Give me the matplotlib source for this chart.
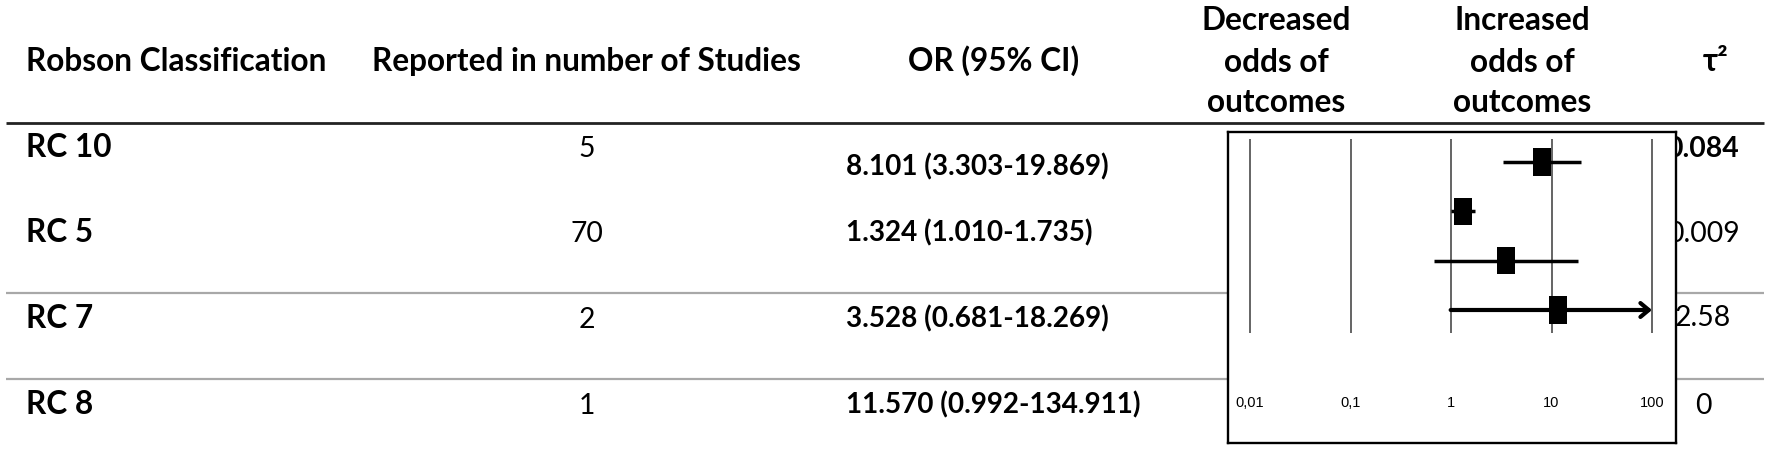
import matplotlib
matplotlib.use("Agg")
import matplotlib.pyplot as plt
from matplotlib.ticker import NullLocator

# ---------------- data ----------------
categories = ["RC 10", "RC 5", "RC 7", "RC 8"]
n_studies = [5, 70, 2, 1]
or_vals = [8.101, 1.324, 3.528, 11.570]
ci_low = [3.303, 1.010, 0.681, 0.992]
ci_high = [19.869, 1.735, 18.269, 134.911]
tau2_labels = ["0.084", "0.009", "2.58", "0"]
tau2_bold = [True, False, False, False]
tick_vals = [0.01, 0.1, 1, 10, 100]
tick_labels = ["0,01", "0,1", "1", "10", "100"]
col_headers = ["Robson Classification", "Reported in number of Studies", "OR (95% CI)"]
dec_header = ["Decreased", "odds of", "outcomes"]
inc_header = ["Increased", "odds of", "outcomes"]
tau_header = "τ²"

# ---------------- figure ----------------
W, H, DPI = 1772, 458, 100
fig = plt.figure(figsize=(W / DPI, H / DPI), dpi=DPI)
fig.patch.set_facecolor("white")
bg = fig.add_axes([0, 0, 1, 1])
bg.set_xlim(0, W)
bg.set_ylim(H, 0)
bg.axis("off")

FONT = ["Lato", "DejaVu Sans"]
TICKFONT = ["Liberation Sans", "DejaVu Sans"]
renderer = fig.canvas.get_renderer()


def fit_size(s, weight, target, base=20.0):
    t = bg.text(0, 0, s, fontsize=base, fontweight=weight, family=FONT)
    w = t.get_window_extent(renderer).width
    t.remove()
    return base * target / w


hdr_fs = fit_size(col_headers[0], "bold", 302)
or_fs = fit_size("11.570 (0.992-134.911)", "bold", 295)
reg_fs = or_fs * 1.02

# table rules
bg.plot([6, 1764], [122.7, 122.7], color="#222222", lw=2.0, solid_capstyle="butt")
for yl in (292.7, 379.3):
    bg.plot([6, 1764], [yl, yl], color="#a8a8a8", lw=1.6, solid_capstyle="butt")

# headers
hdr_base = 70.7
bg.text(26, hdr_base, col_headers[0], ha="left", va="baseline",
        fontsize=hdr_fs, fontweight="bold", family=FONT)
bg.text(586, hdr_base, col_headers[1], ha="center", va="baseline",
        fontsize=hdr_fs, fontweight="bold", family=FONT)
bg.text(994, hdr_base, col_headers[2], ha="center", va="baseline",
        fontsize=hdr_fs, fontweight="bold", family=FONT)
stack_base = [29.5, 71.5, 112.0]
for line, yb in zip(dec_header, stack_base):
    bg.text(1276, yb, line, ha="center", va="baseline",
            fontsize=hdr_fs, fontweight="bold", family=FONT)
for line, yb in zip(inc_header, stack_base):
    bg.text(1522, yb, line, ha="center", va="baseline",
            fontsize=hdr_fs, fontweight="bold", family=FONT)
bg.text(1716, hdr_base, tau_header, ha="center", va="baseline",
        fontsize=hdr_fs, fontweight="bold", family=FONT)

# rows
label_base = [156.7, 241.7, 327.5, 413.5]
or_base = [175.0, 241.7, 327.5, 413.5]
tau_base = [157.0, 241.7, 326.0, 413.5]
for i, cat in enumerate(categories):
    bg.text(26, label_base[i], cat, ha="left", va="baseline",
            fontsize=hdr_fs, fontweight="bold", family=FONT)
    bg.text(586.7, label_base[i], str(n_studies[i]), ha="center", va="baseline",
            fontsize=reg_fs, family=FONT)
    txt = f"{or_vals[i]:.3f} ({ci_low[i]:.3f}-{ci_high[i]:.3f})"
    bg.text(846, or_base[i], txt, ha="left", va="baseline",
            fontsize=or_fs, fontweight="bold", family=FONT)
    bg.text(1703, tau_base[i], tau2_labels[i], ha="center", va="baseline",
            fontsize=reg_fs, fontweight="bold" if tau2_bold[i] else "normal",
            family=FONT)

# ---------------- forest plot ----------------
bl, br, bt, bb = 1228.3, 1676.0, 132.0, 443.3
ax = fig.add_axes([bl / W, 1 - bb / H, (br - bl) / W, (bb - bt) / H])
ax.set_zorder(5)
ax.set_facecolor("white")
ax.set_xscale("log")
ax.set_xlim(0.00608, 173.3)
ax.set_ylim(5.702, -0.608)
ax.set_xticks([])
ax.set_yticks([])
ax.xaxis.set_minor_locator(NullLocator())
for sp in ax.spines.values():
    sp.set_linewidth(1.7)
    sp.set_color("black")

ax.vlines(tick_vals, -0.46, 3.46, color="#3a3a3a", lw=1.1, zorder=1)
for v, lab in zip(tick_vals, tick_labels):
    ax.text(v, 4.88, lab, ha="center", va="center", fontsize=10.5,
            family=TICKFONT, color="black")

rows = list(range(len(categories)))
axis_max = tick_vals[-1]
for i in rows:
    lo, hi = ci_low[i], ci_high[i]
    if hi > axis_max:
        ax.annotate("", xy=(axis_max, i), xytext=(lo, i),
                    arrowprops=dict(arrowstyle="->,head_length=0.6,head_width=0.5",
                                    lw=3.0, color="black", shrinkA=0, shrinkB=0,
                                    mutation_scale=10), zorder=2)
    else:
        ax.hlines(i, lo, hi, color="black", lw=2.5, zorder=2)

half = 10 ** 0.0896
lefts = [v / half for v in or_vals]
widths = [v * half - v / half for v in or_vals]
ax.barh(rows, widths, left=lefts, height=0.56, color="black", zorder=3)

fig.savefig("out.png", dpi=DPI, facecolor="white")
